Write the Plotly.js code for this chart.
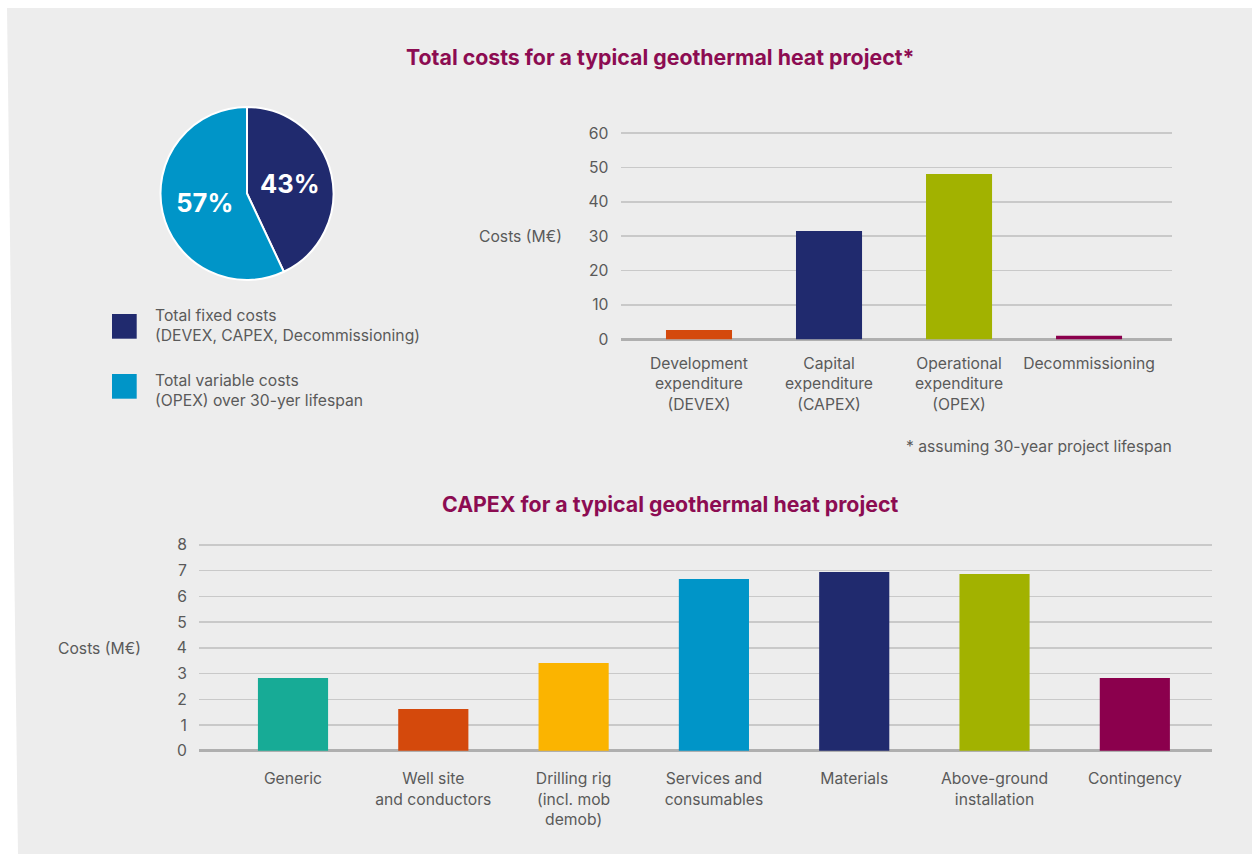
<!DOCTYPE html>
<html>
<head>
<meta charset="utf-8">
<script src="https://cdn.plot.ly/plotly-3.0.1.min.js"></script>
<style>html,body{margin:0;padding:0;background:#fff;}#chart{width:1252px;height:854px;}</style>
</head>
<body>
<div id="chart"></div>
<script>
// ---- Data ----
const pieLabels = ['Total fixed costs<br>(DEVEX, CAPEX, Decommissioning)', 'Total variable costs<br>(OPEX) over 30-yer lifespan'];
const pieValues = [43, 57];

const totalCategories = ['Development<br>expenditure<br>(DEVEX)', 'Capital<br>expenditure<br>(CAPEX)', 'Operational<br>expenditure<br>(OPEX)', 'Decommissioning'];
const totalValues = [2.7, 31.5, 48.1, 1.0];
const totalTicks = [0, 10, 20, 30, 40, 50, 60];

const capexCategories = ['Generic', 'Well site<br>and conductors', 'Drilling rig<br>(incl. mob<br>demob)', 'Services and<br>consumables', 'Materials', 'Above-ground<br>installation', 'Contingency'];
const capexValues = [2.83, 1.62, 3.41, 6.68, 6.95, 6.87, 2.83];
const capexTicks = [0, 1, 2, 3, 4, 5, 6, 7, 8];

const title1 = 'Total costs for a typical geothermal heat project*';
const title2 = 'CAPEX for a typical geothermal heat project';
const yTitle = 'Costs (M€)';
const footnote = '* assuming 30-year project lifespan';

// ---- Styles ----
const pieColors = ['#202a6e', '#0095c8'];
const totalColors = ['#d4490c', '#202a6e', '#a2b200', '#8b004d'];
const capexColors = ['#17ab96', '#d4490c', '#fbb400', '#0095c8', '#202a6e', '#a2b200', '#8b004d'];
const FONT = 'Inter, "Noto Sans", sans-serif';
const TXT = '#5a5a5a';
const TITLE_C = '#8c0c52';
const FS = 15.7;
const W = 1252, H = 854;
const px = x => x / W;
const py = y => 1 - y / H;

const traces = [
  {
    type: 'pie', labels: pieLabels, values: pieValues, sort: false, direction: 'clockwise', rotation: 0,
    marker: {colors: pieColors, line: {color: '#ffffff', width: 2}},
    textinfo: 'percent', textposition: 'inside', insidetextorientation: 'horizontal',
    textfont: {family: FONT, size: 25.5, color: '#ffffff', weight: 700},
    domain: {x: [px(160), px(334)], y: [py(280), py(107)]},
    hoverinfo: 'skip', showlegend: false
  },
  {
    type: 'bar', x: totalCategories, y: totalValues, xaxis: 'x', yaxis: 'y', width: 0.508,
    marker: {color: totalColors}, hoverinfo: 'skip', showlegend: false
  },
  {
    type: 'bar', x: capexCategories, y: capexValues, xaxis: 'x2', yaxis: 'y2', width: 0.5,
    marker: {color: capexColors}, hoverinfo: 'skip', showlegend: false
  }
];

const axisFont = {family: FONT, size: FS, color: TXT};
const layout = {
  width: W, height: H, autosize: false,
  margin: {l: 0, r: 0, t: 0, b: 0, pad: 0},
  paper_bgcolor: '#ffffff', plot_bgcolor: 'rgba(0,0,0,0)',
  showlegend: false, hovermode: false,
  font: {family: FONT, color: TXT},
  xaxis: {
    domain: [px(620.6), px(1172)], range: [-0.603, 3.638], type: 'category',
    showgrid: false, showline: false, zeroline: false,
    ticks: 'outside', ticklen: 8, tickcolor: 'rgba(0,0,0,0)', tickfont: axisFont, fixedrange: true
  },
  yaxis: {
    domain: [py(341.0), py(129.6)], range: [-0.5, 61],
    tickvals: totalTicks, ticktext: totalTicks.map(String),
    showgrid: true, gridcolor: '#c9c9c9', gridwidth: 1.5,
    zeroline: true, zerolinecolor: '#afafaf', zerolinewidth: 2.5, showline: false,
    ticks: 'outside', ticklen: 8, tickcolor: 'rgba(0,0,0,0)', tickfont: axisFont, fixedrange: true
  },
  xaxis2: {
    domain: [px(199), px(1212)], range: [-0.67, 6.55], type: 'category', anchor: 'y2',
    showgrid: false, showline: false, zeroline: false,
    ticks: 'outside', ticklen: 11, tickcolor: 'rgba(0,0,0,0)', tickfont: axisFont, fixedrange: true
  },
  yaxis2: {
    domain: [py(753.3), py(541.1)], range: [-0.1, 8.15], anchor: 'x2',
    tickvals: capexTicks, ticktext: capexTicks.map(String),
    showgrid: true, gridcolor: '#c9c9c9', gridwidth: 1.5,
    zeroline: true, zerolinecolor: '#afafaf', zerolinewidth: 2.5, showline: false,
    ticks: 'outside', ticklen: 8, tickcolor: 'rgba(0,0,0,0)', tickfont: axisFont, fixedrange: true
  },
  shapes: [
    {type: 'path', xref: 'paper', yref: 'paper', layer: 'below',
     path: `M ${px(7)} ${py(8)} L ${px(1252)} ${py(8)} L ${px(1252)} ${py(854)} L ${px(18)} ${py(854)} Z`,
     fillcolor: '#ededed', line: {width: 0}},
    {type: 'rect', xref: 'paper', yref: 'paper', layer: 'above',
     x0: px(112), x1: px(136.7), y0: py(338.7), y1: py(314), fillcolor: pieColors[0], line: {width: 0}},
    {type: 'rect', xref: 'paper', yref: 'paper', layer: 'above',
     x0: px(112), x1: px(136.7), y0: py(398.7), y1: py(374), fillcolor: pieColors[1], line: {width: 0}}
  ],
  annotations: [
    {xref: 'paper', yref: 'paper', x: px(660), y: py(57), text: title1, showarrow: false,
     xanchor: 'center', yanchor: 'middle', font: {family: FONT, size: 21.3, color: TITLE_C, weight: 700}},
    {xref: 'paper', yref: 'paper', x: px(670), y: py(504), text: title2, showarrow: false,
     xanchor: 'center', yanchor: 'middle', font: {family: FONT, size: 21.3, color: TITLE_C, weight: 700}},
    {xref: 'paper', yref: 'paper', x: px(152.5), y: py(325.5), text: pieLabels[0], showarrow: false,
     xanchor: 'left', yanchor: 'middle', align: 'left', font: {family: FONT, size: FS, color: TXT}},
    {xref: 'paper', yref: 'paper', x: px(152.5), y: py(391), text: pieLabels[1], showarrow: false,
     xanchor: 'left', yanchor: 'middle', align: 'left', font: {family: FONT, size: FS, color: TXT}},
    {xref: 'paper', yref: 'paper', x: px(564), y: py(237), text: yTitle, showarrow: false,
     xanchor: 'right', yanchor: 'middle', font: {family: FONT, size: FS, color: TXT}},
    {xref: 'paper', yref: 'paper', x: px(143), y: py(648), text: yTitle, showarrow: false,
     xanchor: 'right', yanchor: 'middle', font: {family: FONT, size: FS, color: TXT}},
    {xref: 'paper', yref: 'paper', x: px(1173.5), y: py(446), text: footnote, showarrow: false,
     xanchor: 'right', yanchor: 'middle', font: {family: FONT, size: FS, color: TXT}}
  ]
};

Plotly.newPlot('chart', traces, layout, {displayModeBar: false, staticPlot: true});
</script>
</body>
</html>
